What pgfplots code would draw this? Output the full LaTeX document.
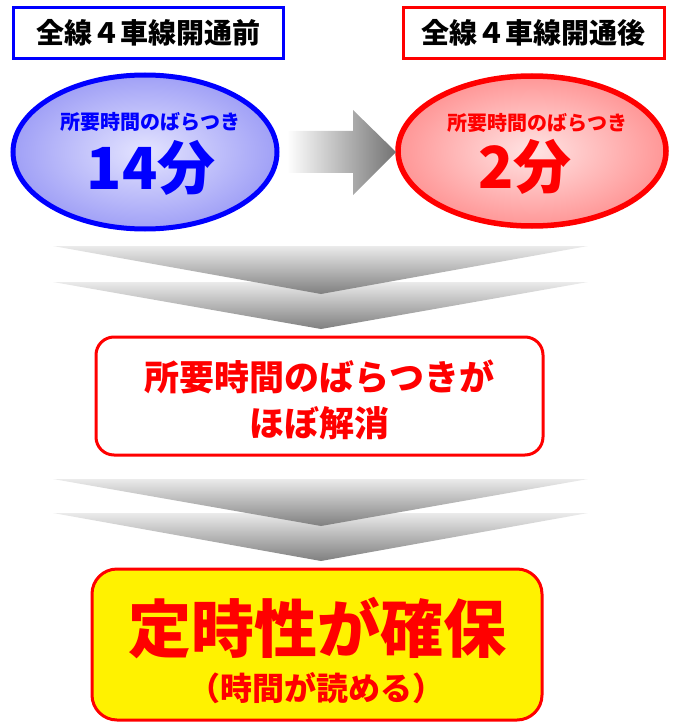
\documentclass[border=0pt]{standalone}
\usepackage{pgfplots}
\pgfplotsset{compat=1.18}
\usepackage{fontspec}
\setmainfont{Noto Sans CJK JP}

\definecolor{jblue}{RGB}{0,0,255}
\definecolor{jred}{RGB}{255,0,0}
\definecolor{bluein}{RGB}{228,228,255}
\definecolor{blueout}{RGB}{160,160,246}
\definecolor{redin}{RGB}{255,228,228}
\definecolor{redout}{RGB}{255,150,150}

\newcommand{\fs}[1]{\fontsize{#1bp}{#1bp}\selectfont\bfseries}

\begin{document}
\begin{tikzpicture}
\begin{axis}[
    scale only axis,
    width=674bp, height=722bp,
    xmin=0, xmax=674, ymin=0, ymax=722,
    y dir=reverse,
    axis lines=none,
    clip=false,
]
% page area
\path (axis cs:0,0) rectangle (axis cs:674,722);

% header boxes
\draw[jblue, line width=3bp, fill=white] (axis cs:13,8) rectangle (axis cs:283,59);
\node[inner sep=0pt] at (axis cs:148,33) {\fs{28}全線４車線開通前};
\draw[jred, line width=3bp, fill=white] (axis cs:403,8) rectangle (axis cs:664,59);
\node[inner sep=0pt] at (axis cs:533,33) {\fs{28}全線４車線開通後};

% ellipses
\shade[inner color=bluein, outer color=blueout] (axis cs:145,152) ellipse [x radius=132bp, y radius=77bp];
\draw[jblue, line width=5bp] (axis cs:145,152) ellipse [x radius=132bp, y radius=77bp];
\node[inner sep=0pt, text=jblue] at (axis cs:150,122) {\fs{20}所要時間のばらつき};
\node[inner sep=0pt, text=jblue] at (axis cs:151,168) {\fs{58}14分};

\shade[inner color=redin, outer color=redout] (axis cs:532,151) ellipse [x radius=134bp, y radius=75bp];
\draw[jred, line width=5.5bp] (axis cs:532,151) ellipse [x radius=134bp, y radius=75bp];
\node[inner sep=0pt, text=jred] at (axis cs:537,123) {\fs{20}所要時間のばらつき};
\node[inner sep=0pt, text=jred] at (axis cs:525,167) {\fs{58}2分};

% arrow between
\shade[left color=white, right color=black!55]
  (axis cs:287,131) -- (axis cs:353,131) -- (axis cs:353,110) -- (axis cs:396,152)
  -- (axis cs:353,195) -- (axis cs:353,173) -- (axis cs:287,173) -- cycle;

% chevrons (lower one first, upper one on top)
\shade[top color=black!8, bottom color=black!50]
  (axis cs:53,282) -- (axis cs:588,282) -- (axis cs:321,329) -- cycle;
\shade[top color=black!8, bottom color=black!50]
  (axis cs:53,246) -- (axis cs:588,246) -- (axis cs:321,294) -- cycle;

\shade[top color=black!8, bottom color=black!50]
  (axis cs:53,513) -- (axis cs:588,513) -- (axis cs:321,561) -- cycle;
\shade[top color=black!8, bottom color=black!50]
  (axis cs:53,479) -- (axis cs:588,479) -- (axis cs:321,526) -- cycle;

% middle box
\draw[jred, line width=3bp, fill=white, rounded corners=18bp]
  (axis cs:96,337) rectangle (axis cs:543,455);
\node[inner sep=0pt, text=jred] at (axis cs:319,377) {\fs{35}所要時間のばらつきが};
\node[inner sep=0pt, text=jred] at (axis cs:319,423) {\fs{35}ほぼ解消};

% bottom box
\draw[jred, line width=3bp, fill=yellow, rounded corners=25bp]
  (axis cs:92,569) rectangle (axis cs:542,720);
\node[inner sep=0pt, text=jred] at (axis cs:317,628) {\fs{63}定時性が確保};
\node[inner sep=0pt, text=jred] at (axis cs:316,688) {\fs{32}（時間が読める）};
\end{axis}
\end{tikzpicture}
\end{document}
